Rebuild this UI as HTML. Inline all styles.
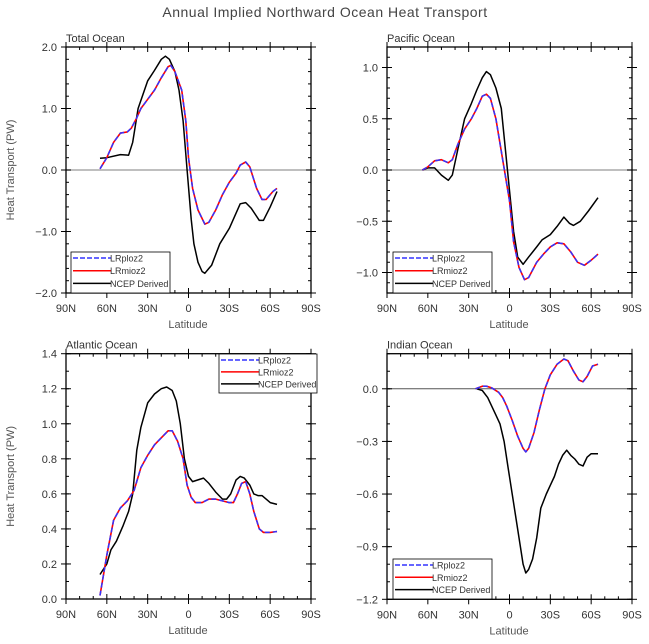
<!DOCTYPE html>
<html><head><meta charset="utf-8"><style>
html,body{margin:0;padding:0;background:#fff;}
svg{display:block;font-family:"Liberation Sans",sans-serif;}
</style></head><body>
<svg id="s" width="649" height="644" viewBox="0 0 649 644" xmlns="http://www.w3.org/2000/svg">
<text x="325" y="17" font-size="14" text-anchor="middle" fill="#444" letter-spacing="0.5">Annual Implied Northward Ocean Heat Transport</text>
</svg>
<script>
const S=document.getElementById('s');let h='';
function P(cfg){
 const x0=cfg.x0,x1=x0+245,yt=cfg.yt,yb=cfg.yb;
 const Y=v=>yb-(v-cfg.ymin)/(cfg.ymax-cfg.ymin)*(yb-yt);
 const X=l=>x0+(90-l)/180*245;
 // zero line
 const z=Y(0);
 h+=`<line x1="${x0}" x2="${x1}" y1="${z}" y2="${z}" stroke="${cfg.zc}" stroke-width="${cfg.zw}"/>`;
 // minor ticks x
 for(let l=90;l>=-90;l-=10){const x=X(l);const maj=l%30==0;const t=maj?5:3;
  h+=`<line x1="${x}" x2="${x}" y1="${yb-t}" y2="${yb+(maj?5:0)}" stroke="#000"/><line x1="${x}" x2="${x}" y1="${yt}" y2="${yt+t}" stroke="#000"/>`;
  if(maj){h+=`<line x1="${x}" x2="${x}" y1="${yt-5}" y2="${yt}" stroke="#000"/>`;
   const lab=l==0?'0':(Math.abs(l)+(l>0?'N':'S'));
   h+=`<text x="${x}" y="${yb+19}" font-size="11" text-anchor="middle" fill="#333">${lab}</text>`;}}
 for(let v=cfg.ymin;v<=cfg.ymax+1e-9;v+=cfg.minor){const y=Y(v);
  h+=`<line x1="${x0}" x2="${x0+3}" y1="${y}" y2="${y}" stroke="#000"/><line x1="${x1-3}" x2="${x1}" y1="${y}" y2="${y}" stroke="#000"/>`;}
 for(const v of cfg.majors){const y=Y(v);
  h+=`<line x1="${x0-5}" x2="${x0+5}" y1="${y}" y2="${y}" stroke="#000"/><line x1="${x1-5}" x2="${x1+5}" y1="${y}" y2="${y}" stroke="#000"/>`;
  const s=(v<0?'\u2212':'')+Math.abs(v).toFixed(1);
  h+=`<text x="${x0-9}" y="${y+4}" font-size="11" text-anchor="end" fill="#333">${s}</text>`;}
 h+=`<rect x="${x0}" y="${yt}" width="245" height="${yb-yt}" fill="none" stroke="#000" stroke-width="1.3"/>`;
 h+=`<text x="${x0}" y="${yt-5}" font-size="11" fill="#333">${cfg.title}</text>`;
 h+=`<text x="${x0+122}" y="${yb+35}" font-size="11" text-anchor="middle" fill="#555">Latitude</text>`;
 if(cfg.ylab) h+=`<text transform="translate(${x0-52},${(yt+yb)/2}) rotate(-90)" font-size="11" text-anchor="middle" fill="#555">Heat Transport (PW)</text>`;
 const pl=(d,c,w,da)=>{let p=d.map(a=>X(a[0]).toFixed(1)+','+Y(a[1]).toFixed(1)).join(' ');
  h+=`<polyline points="${p}" fill="none" stroke="${c}" stroke-width="${w}" ${da?'stroke-dasharray="5,3"':''} stroke-linejoin="round"/>`;};
 pl(cfg.n,'#000',1.5);
 pl(cfg.m,'#f00',1.6);
 pl(cfg.m,'#33f',1.5,true);
 // legend
 const L=cfg.leg;
 h+=`<rect x="${L[0]}" y="${L[1]}" width="${L[2]}" height="${L[3]}" fill="#fff" stroke="#000" stroke-width="0.8"/>`;
 const rows=[['LRploz2','#33f',1],['LRmioz2','#f00',0],['NCEP Derived','#000',0]];
 rows.forEach((r,i)=>{const y=L[1]+6+i*(L[3]-8)/2.6;
  h+=`<line x1="${L[0]+2}" x2="${L[0]+40}" y1="${y}" y2="${y}" stroke="${r[1]}" stroke-width="1.5" ${r[2]?'stroke-dasharray="5,2"':''}/>`;
  h+=`<text x="${L[0]+39}" y="${y+3.5}" font-size="9" fill="#333">${r[0]}</text>`;});
}
P({x0:66,yt:47,yb:293,ymin:-2,ymax:2,minor:0.2,majors:[-2,-1,0,1,2],zc:'#aaa',zw:1.5,title:'Total Ocean',ylab:1,leg:[71,252,99,41],
m:[[65,0.02],[60,0.2],[55,0.45],[50,0.6],[45,0.62],[42,0.68],[38,0.85],[35,1.0],[30,1.15],[25,1.3],[20,1.5],[15,1.68],[13,1.7],[10,1.6],[5,1.3],[2,0.8],[0,0.2],[-3,-0.3],[-7,-0.65],[-12,-0.88],[-15,-0.85],[-20,-0.65],[-25,-0.4],[-30,-0.2],[-35,-0.05],[-38,0.08],[-42,0.13],[-45,0.05],[-50,-0.3],[-54,-0.48],[-57,-0.48],[-62,-0.35],[-65,-0.3]],
n:[[65,0.19],[60,0.2],[50,0.25],[44,0.24],[41,0.45],[37,1.0],[30,1.45],[25,1.62],[20,1.8],[17,1.85],[14,1.8],[10,1.6],[7,1.3],[4,0.8],[1,0],[-2,-0.8],[-4,-1.2],[-7,-1.5],[-10,-1.65],[-12,-1.68],[-15,-1.6],[-17,-1.55],[-23,-1.2],[-30,-0.95],[-35,-0.7],[-38,-0.55],[-42,-0.53],[-46,-0.62],[-52,-0.82],[-55,-0.82],[-60,-0.6],[-65,-0.35]]});
P({x0:387,yt:47,yb:293,ymin:-1.2,ymax:1.2,minor:0.1,majors:[-1,-0.5,0,0.5,1],zc:'#aaa',zw:1.5,title:'Pacific Ocean',leg:[393,252,99,41],
m:[[64,0],[60,0.03],[55,0.09],[50,0.1],[45,0.07],[42,0.1],[38,0.25],[33,0.4],[28,0.5],[24,0.6],[20,0.72],[17,0.74],[14,0.7],[10,0.5],[5,0.1],[0,-0.3],[-3,-0.7],[-7,-0.95],[-11,-1.07],[-14,-1.05],[-20,-0.9],[-25,-0.82],[-30,-0.75],[-35,-0.71],[-40,-0.72],[-45,-0.8],[-50,-0.9],[-55,-0.93],[-60,-0.88],[-65,-0.82]],
n:[[64,0],[60,0.02],[55,0.02],[50,-0.05],[45,-0.1],[42,-0.05],[38,0.2],[33,0.5],[28,0.65],[24,0.78],[20,0.9],[17,0.96],[14,0.93],[10,0.8],[6,0.6],[3,0.2],[0,-0.2],[-3,-0.6],[-6,-0.85],[-10,-0.92],[-14,-0.85],[-20,-0.75],[-24,-0.68],[-30,-0.63],[-35,-0.55],[-40,-0.46],[-44,-0.52],[-47,-0.54],[-52,-0.5],[-58,-0.4],[-65,-0.27]]});
P({x0:66,yt:353.7,yb:599,ymin:0,ymax:1.4,minor:0.1,majors:[0,0.2,0.4,0.6,0.8,1.0,1.2,1.4],zc:'#000',zw:0,title:'Atlantic Ocean',ylab:1,leg:[219,354,98,39],
m:[[65,0.02],[60,0.25],[55,0.45],[50,0.52],[45,0.56],[40,0.62],[35,0.75],[30,0.82],[25,0.88],[20,0.92],[15,0.96],[12,0.96],[8,0.9],[4,0.8],[1,0.65],[-2,0.58],[-5,0.55],[-10,0.55],[-15,0.57],[-20,0.57],[-25,0.56],[-30,0.55],[-33,0.55],[-36,0.6],[-39,0.66],[-42,0.67],[-45,0.6],[-48,0.5],[-52,0.4],[-55,0.38],[-60,0.38],[-65,0.385]],
n:[[65,0.14],[60,0.2],[57,0.28],[53,0.33],[48,0.42],[44,0.5],[41,0.6],[38,0.85],[35,0.98],[30,1.12],[25,1.17],[20,1.2],[16,1.21],[12,1.19],[9,1.13],[6,1.0],[3,0.8],[0,0.7],[-3,0.67],[-7,0.68],[-11,0.69],[-15,0.66],[-20,0.61],[-25,0.57],[-28,0.57],[-31,0.6],[-35,0.68],[-38,0.7],[-41,0.69],[-45,0.65],[-48,0.6],[-51,0.59],[-54,0.59],[-57,0.57],[-60,0.55],[-65,0.54]]});
P({x0:387,yt:353.7,yb:599.3,ymin:-1.2,ymax:0.2,minor:0.1,majors:[-1.2,-0.9,-0.6,-0.3,0],zc:'#555',zw:1,title:'Indian Ocean',leg:[393,559,99,40],
m:[[25,0],[20,0.015],[17,0.015],[13,0.005],[8,-0.02],[5,-0.05],[2,-0.1],[-2,-0.18],[-6,-0.27],[-10,-0.34],[-12,-0.36],[-14,-0.34],[-18,-0.25],[-22,-0.12],[-26,0],[-30,0.08],[-35,0.14],[-40,0.17],[-43,0.16],[-47,0.1],[-51,0.05],[-54,0.04],[-57,0.07],[-61,0.13],[-65,0.14]],
n:[[24,0],[20,-0.01],[16,-0.05],[13,-0.1],[10,-0.15],[7,-0.2],[4,-0.3],[1,-0.45],[-2,-0.6],[-5,-0.75],[-8,-0.9],[-10,-1.0],[-12,-1.05],[-14,-1.03],[-17,-0.97],[-20,-0.85],[-23,-0.68],[-27,-0.6],[-30,-0.55],[-33,-0.5],[-36,-0.43],[-39,-0.38],[-42,-0.35],[-45,-0.38],[-48,-0.4],[-51,-0.43],[-54,-0.44],[-57,-0.39],[-60,-0.37],[-65,-0.37]]});
S.insertAdjacentHTML('beforeend',h);
</script>
</body></html>
